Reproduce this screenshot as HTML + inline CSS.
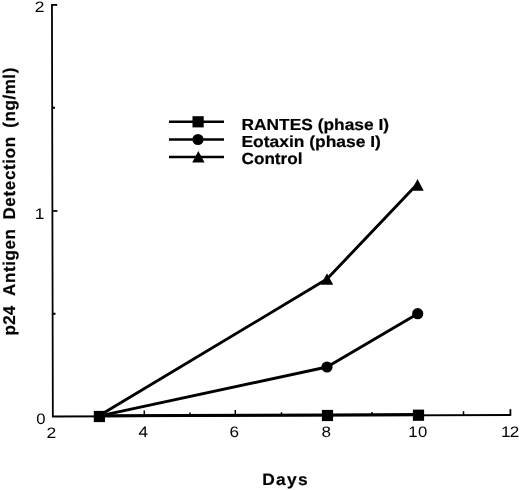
<!DOCTYPE html>
<html>
<head>
<meta charset="utf-8">
<title>p24 Antigen Detection</title>
<style>
html,body{margin:0;padding:0;background:#fff;}
body{width:520px;height:490px;overflow:hidden;}
svg{display:block;}
text{font-family:"Liberation Sans",Arial,Helvetica,sans-serif;fill:#000;text-rendering:geometricPrecision;}
.b{font-weight:bold;font-size:16px;stroke:#000;stroke-width:0.2px;}
.t{font-size:15.2px;}
.yl{font-size:17px;}
</style>
</head>
<body>
<svg width="520" height="490" viewBox="0 0 520 490" xmlns="http://www.w3.org/2000/svg">
<rect width="520" height="490" fill="#fff"/>
<!-- axes -->
<g stroke="#000" stroke-width="1.8" fill="none" stroke-linecap="butt">
<path d="M51.95 4 L52.85 416.5 L510.4 415"/>
</g>
<g stroke="#000" stroke-width="1.5" fill="none">
<!-- y ticks -->
<path d="M52 4.9 H57.2" stroke-width="1.9"/>
<path d="M52.2 107.7 H55 M52.7 313.8 H55.5" stroke-width="2"/>
<path d="M52.4 211 H57.4" stroke-width="1.7"/>
<!-- x ticks -->
<path d="M98.6 416.3 V412.7 M144.3 416.2 V410.4 M190 416 V412.6 M235.3 415.9 V410 M281.5 415.7 V412.3 M327.2 415.6 V410 M372 415.4 V412 M418.6 415.3 V410.4 M463.5 415.1 V411.2"/>
<path d="M510.4 415.9 V409.2" stroke-width="1.8"/>
</g>
<!-- data lines -->
<g stroke="#000" stroke-width="2.9" fill="none" stroke-linejoin="round">
<path d="M99.4 415.75 L327.5 414.85 L418.5 414.5"/>
<path d="M98.6 416.1 L327 367 L417.7 313.7"/>
<path d="M98.6 416.1 L327 279 L417.6 183.8"/>
</g>
<!-- markers -->
<g fill="#000">
<rect x="93.8" y="410.9" width="11.2" height="11.2"/>
<rect x="321.9" y="409.9" width="11.2" height="11.2"/>
<rect x="412.9" y="409.6" width="11.2" height="11.2"/>
<circle cx="327" cy="367" r="5.6"/>
<circle cx="417.7" cy="313.7" r="5.6"/>
<path d="M327 273.3 L333.2 284.8 H320.8 Z"/>
<path d="M417.5 179 L423.7 190.8 H411.3 Z"/>
</g>
<!-- legend -->
<g stroke="#000" stroke-width="2.6">
<path d="M169 121.8 H224 M169 139.5 H224 M169 157 H224"/>
</g>
<g fill="#000">
<rect x="192.5" y="116.2" width="11.2" height="11.2"/>
<circle cx="198" cy="139.5" r="5.6"/>
<path d="M198.3 151 L204.6 162.6 H192.2 Z"/>
</g>
<text class="b" x="241.5" y="129.6" textLength="147.5" lengthAdjust="spacingAndGlyphs">RANTES (phase I)</text>
<text class="b" x="241.5" y="146.5" textLength="139.4" lengthAdjust="spacingAndGlyphs">Eotaxin (phase I)</text>
<text class="b" x="241.5" y="163.5" textLength="61" lengthAdjust="spacingAndGlyphs">Control</text>
<!-- y tick labels -->
<text class="t" transform="translate(44.5 12.1) scale(1.15 1)" text-anchor="end">2</text>
<text class="t" transform="translate(44.5 218.6) scale(1.15 1)" text-anchor="end">1</text>
<text class="t" transform="translate(45.5 423.7) scale(1.1 1)" text-anchor="end">0</text>
<!-- x tick labels -->
<text class="t" transform="translate(51.3 437.5) scale(1.15 1)" text-anchor="middle">2</text>
<text class="t" transform="translate(143.2 437.2) scale(1.13 1)" text-anchor="middle">4</text>
<text class="t" transform="translate(234.2 437) scale(1.13 1)" text-anchor="middle">6</text>
<text class="t" transform="translate(326.3 436.8) scale(1.13 1)" text-anchor="middle">8</text>
<text class="t" transform="translate(408.3 436.8) scale(1.1 1)" letter-spacing="0.3">10</text>
<text class="t" transform="translate(501 436.7) scale(1.13 1)" letter-spacing="-0.7">12</text>
<!-- axis titles -->
<text class="b" style="font-size:16.4px" transform="translate(262.2 484.6) scale(1.06 1)" letter-spacing="1.25">Days</text>
<g transform="translate(15.1 0) rotate(-90)">
<text class="b yl" x="-335.4" y="0" textLength="29.6" lengthAdjust="spacing">p24</text>
<text class="b yl" x="-296" y="0" textLength="67" lengthAdjust="spacing">Antigen</text>
<text class="b yl" x="-219.6" y="0" textLength="82.8" lengthAdjust="spacing">Detection</text>
<text class="b yl" x="-127.7" y="0" textLength="60" lengthAdjust="spacing">(ng/ml)</text>
</g>
</svg>
</body>
</html>
